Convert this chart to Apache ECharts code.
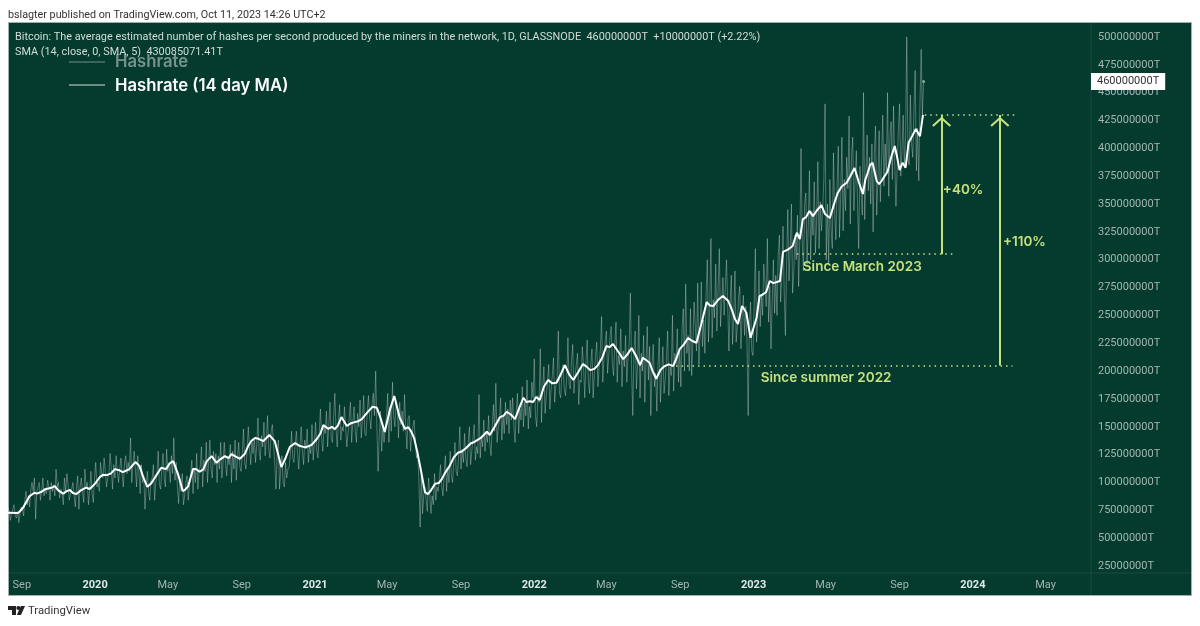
<!DOCTYPE html>
<html>
<head>
<meta charset="utf-8">
<title>Hashrate</title>
<style>
    html, body { margin: 0; padding: 0; background: #fff; }
    #chart { width: 1200px; height: 626px; }
</style>
<script src="https://cdn.jsdelivr.net/npm/echarts@6/dist/echarts.min.js"></script>
</head>
<body>
<div id="chart"></div>
<script>
// all values are in millions of T, the axis formatter adds the zeros back
var startDate = '2019-08-09';
var rawStepDays = 2;

// x axis labels
var tickDates = ['2019-09-01', '2020-01-01', '2020-05-01', '2020-09-01', '2021-01-01', '2021-05-01', '2021-09-01', '2022-01-01', '2022-05-01', '2022-09-01', '2023-01-01', '2023-05-01', '2023-09-01', '2024-01-01', '2024-05-01'];
var tickNames = ['Sep', '2020', 'May', 'Sep', '2021', 'May', 'Sep', '2022', 'May', 'Sep', '2023', 'May', 'Sep', '2024', 'May'];

// hashrate, read every 2 days from the picture (one row = 40 days)
var rawValues = [
    78, 74, 66, 72, 76, 80, 70, 68, 74, 64, 72, 78, 76, 70, 84, 92, 80, 88, 78, 94,
    100, 92, 104, 67, 92, 96, 100, 84, 92, 104, 88, 94, 90, 102, 96, 84, 100, 92, 98, 88,
    112, 96, 100, 86, 94, 90, 80, 104, 92, 108, 98, 84, 90, 94, 100, 88, 78, 96, 106, 76,
    96, 104, 92, 82, 112, 96, 100, 80, 94, 110, 90, 82, 104, 118, 96, 100, 92, 118, 108, 104,
    122, 110, 96, 104, 108, 126, 112, 94, 116, 104, 124, 110, 100, 112, 122, 106, 96, 118, 124, 108,
    118, 110, 140, 100, 116, 128, 112, 96, 124, 108, 90, 116, 100, 106, 76, 96, 110, 92, 84, 102,
    104, 116, 84, 100, 108, 128, 98, 94, 112, 126, 104, 96, 130, 110, 118, 100, 124, 108, 140, 102,
    118, 96, 81, 104, 92, 108, 80, 88, 100, 106, 84, 96, 108, 120, 90, 112, 100, 126, 94, 110,
    114, 132, 96, 120, 110, 136, 100, 118, 138, 112, 104, 128, 116, 126, 100, 124, 112, 136, 104, 118,
    136, 118, 106, 124, 116, 134, 100, 128, 112, 138, 102, 122, 136, 114, 110, 126, 148, 118, 112, 130,
    150, 130, 116, 136, 126, 140, 118, 134, 158, 128, 120, 142, 132, 154, 124, 138, 160, 130, 122, 146,
    152, 134, 118, 94, 126, 138, 94, 112, 124, 100, 96, 118, 104, 112, 114, 126, 146, 122, 118, 134,
    146, 126, 112, 134, 150, 128, 116, 138, 130, 148, 118, 132, 126, 152, 120, 136, 154, 128, 122, 144,
    166, 140, 128, 150, 144, 164, 132, 152, 172, 140, 136, 158, 180, 148, 132, 156, 170, 138, 150, 146,
    168, 150, 132, 144, 158, 172, 136, 154, 168, 146, 136, 162, 150, 174, 140, 156, 178, 144, 142, 164,
    178, 158, 148, 170, 180, 160, 200, 150, 110, 142, 164, 128, 150, 136, 150, 160, 180, 136, 168, 146,
    190, 160, 150, 172, 166, 140, 172, 152, 164, 146, 179, 150, 130, 158, 160, 128, 142, 150, 156, 136,
    122, 128, 100, 60, 108, 72, 88, 96, 84, 74, 104, 90, 72, 88, 80, 108, 84, 96, 92, 104,
    116, 96, 88, 108, 124, 92, 112, 100, 128, 106, 100, 118, 136, 110, 106, 122, 150, 112, 130, 118,
    144, 122, 114, 136, 150, 116, 128, 140, 152, 120, 132, 126, 179, 122, 140, 132, 156, 128, 144, 136,
    160, 134, 124, 150, 170, 146, 189, 136, 148, 156, 176, 138, 160, 144, 172, 152, 166, 144, 174, 156,
    176, 150, 136, 164, 180, 144, 166, 156, 186, 150, 172, 160, 192, 148, 168, 158, 190, 176, 211, 160,
    150, 178, 172, 220, 154, 186, 204, 162, 178, 190, 206, 166, 184, 196, 212, 172, 188, 194, 236, 180,
    176, 200, 206, 184, 178, 194, 230, 188, 184, 210, 224, 180, 196, 206, 216, 170, 192, 190, 222, 204,
    176, 208, 228, 190, 180, 206, 220, 176, 198, 214, 226, 186, 204, 220, 249, 190, 212, 226, 236, 198,
    198, 230, 240, 206, 196, 224, 244, 190, 214, 206, 238, 186, 218, 204, 232, 190, 212, 226, 270, 200,
    160, 220, 236, 184, 206, 250, 176, 216, 200, 232, 172, 208, 240, 192, 222, 160, 204, 224, 186, 198,
    164, 206, 230, 172, 198, 222, 180, 192, 212, 236, 178, 204, 196, 250, 182, 216, 206, 238, 190, 220,
    186, 238, 256, 200, 278, 216, 232, 200, 256, 196, 226, 262, 240, 218, 279, 206, 234, 280, 222, 246,
    216, 270, 300, 226, 256, 319, 230, 264, 248, 296, 236, 274, 310, 240, 262, 284, 250, 276, 300, 258,
    218, 262, 286, 224, 248, 290, 226, 240, 266, 276, 220, 250, 268, 232, 258, 226, 160, 240, 262, 218,
    214, 260, 310, 226, 244, 290, 240, 268, 250, 296, 280, 258, 319, 244, 276, 220, 262, 300, 252, 286,
    250, 304, 322, 262, 284, 330, 270, 232, 296, 345, 281, 310, 350, 270, 290, 322, 300, 340, 276, 318,
    400, 318, 290, 350, 360, 296, 330, 380, 300, 344, 322, 370, 306, 336, 388, 310, 352, 326, 346, 372,
    440, 300, 350, 296, 372, 328, 310, 396, 342, 318, 366, 402, 320, 356, 410, 326, 372, 344, 392, 364,
    429, 332, 392, 410, 344, 370, 398, 352, 310, 384, 360, 340, 450, 336, 378, 412, 362, 392, 350, 404,
    325, 396, 420, 340, 372, 416, 352, 388, 430, 366, 404, 376, 450, 357, 410, 424, 372, 438, 386, 348,
    348, 416, 440, 375, 398, 430, 384, 410, 500, 392, 385, 448, 404, 392, 436, 470, 380, 418, 371, 440,
    489, 430, 460
];

// 14 day MA, days counted from startDate
var maDays = [0, 17, 25, 36, 44, 55, 72, 78, 92, 103, 114, 125, 136, 153, 164, 178, 191, 202, 212, 219, 232, 244, 255, 263, 275, 283, 291, 300, 308, 319,
    325, 331, 339, 347, 361, 367, 372, 386, 394, 405, 417, 425, 435, 444, 455, 469, 478, 486, 505, 514, 525, 533, 544, 555, 564, 577, 589, 600, 614, 627, 636, 643, 652,
    661, 666, 676, 686, 694, 699, 711, 722, 735, 749, 763, 777, 797, 802, 819, 830, 844, 858, 863, 874, 879, 885, 899, 913, 927, 941, 957, 969, 982,
    996, 1007, 1024, 1038, 1052, 1057, 1068, 1079, 1093, 1107, 1118, 1132, 1146, 1154, 1163, 1174, 1190, 1199, 1210, 1215, 1222, 1229, 1236, 1246, 1251, 1262, 1268, 1285,
    1290, 1306, 1313, 1318, 1323, 1334, 1340, 1354, 1360, 1368, 1381, 1396, 1409, 1423, 1431, 1439, 1446, 1454, 1464, 1476, 1484, 1489, 1494, 1499, 1511, 1518, 1523];
var maValues = [72.8, 72.5, 77.3, 87.8, 90.8, 91.4, 95.2, 96.8, 89.9, 93.2, 89.6, 94.1, 94.1, 104.9, 106.6, 112, 109.3, 112, 118.3, 114.7, 96.1, 104, 113.2, 112, 119.2, 107.5, 92.3, 96.8, 112, 109.6,
    111.8, 119.2, 123.7, 117.7, 123.7, 121.9, 125.5, 121.3, 125.5, 137.2, 139.2, 137.2, 142.6, 137.2, 113.8, 131.8, 135.4, 132.7, 133.6, 139, 151.5, 148.2, 147.9, 158.7, 150.7, 154.2, 156.9, 164.1, 167.1, 145.3, 165.9, 177.6, 158.1,
    148, 149.7, 139.9, 114.7, 91.4, 89.6, 98.8, 103, 114.7, 126.7, 131.2, 136.6, 145.5, 142.6, 158.7, 163.5, 156.9, 176.1, 172.2, 172.2, 176.7, 174, 192, 189.5, 205.4, 192, 206.3, 200.9, 205.4,
    222.5, 224.3, 210.8, 220.7, 205.4, 212, 207.5, 193.1, 204.5, 204.5, 219.8, 229.7, 225.5, 242.2, 262, 258.4, 267.4, 262.9, 246.7, 242.2, 258.4, 252.4, 229.9, 247.9, 267.4, 271, 280.9, 280.9,
    307, 312.3, 324.2, 318.6, 336.5, 343.7, 339.2, 349.1, 341, 337.4, 359.9, 369.1, 382.3, 359, 378.1, 387.1, 370.7, 370.7, 379, 402.1, 380.5, 387.1, 382.6, 405, 417.4, 411, 430.085];

// small wiggles of the MA between the points above
var maDetailDays = [48, 62, 84, 97, 108, 120, 130, 145, 158, 171, 185, 196, 225, 238, 269, 295, 313, 354, 380, 400, 411, 462, 495, 520, 539, 549, 570, 583, 595, 607, 620,
    671, 681, 704, 717, 729, 742, 756, 770, 787, 810, 825, 837, 851, 869, 892, 906, 920, 934, 949, 963, 976,
    989, 1001, 1015, 1031, 1045, 1073, 1086, 1100, 1113, 1125, 1139, 1168, 1182, 1205, 1257, 1274, 1298, 1328, 1346, 1375, 1388, 1402, 1416, 1427, 1435, 1450, 1459, 1470, 1480, 1505];
var maDetailValues = [90, 94, 92.6, 92, 90.5, 92.4, 95.4, 99, 107, 108, 111, 110.5, 105, 99, 117, 93.5, 112, 121, 123, 133, 140, 122, 131.5, 144, 150, 151, 153, 155, 161, 168, 158,
    146, 128, 93, 99.5, 110, 122.5, 128, 135, 140, 150, 160, 161, 167, 173, 186, 189, 197, 197, 199, 204, 202,
    212, 221.5, 218, 215, 214, 200, 201, 206, 212, 224, 227, 259, 264, 255, 269, 279, 309, 338, 344, 350, 366, 375, 370, 372, 385, 368, 375, 392, 392, 411];

// y axis
var yMin = 25;
var yMax = 500;
var yStep = 25;
var lastClose = 460;

// annotation levels and arrows
var levelNow = 430;
var levelMarch = 305;
var levelSummer = 205;
var arrowHeadValue = 424;
var dotNowFrom = '2023-10-13';
var dotNowTo = '2024-03-12';
var dotMarchFrom = '2023-03-14';
var dotMarchTo = '2023-12-03';
var dotSummerFrom = '2022-08-25';
var dotSummerTo = '2024-03-07';
var arrowShort = '2023-11-10';
var arrowLong = '2024-02-15';
var noteTexts = ['+40%', '+110%', 'Since March 2023', 'Since summer 2022'];
var noteDates = ['2023-11-12', '2024-02-20', '2023-03-24', '2023-01-13'];
var noteValues = [362.6, 316, 293.4, 193.8];

var LIME = '#c6e27f';
var AXIS_TEXT = '#a3b6b0';
var BG = '#053a2f';
var CHEVRON = 'path://M9,0 L18,9 L16.6,10.4 L9,3 L1.4,10.4 L0,9 Z';

drawChart();

function dayToTime(day) {
    return Date.parse(startDate) + day * 86400000;
}

function buildRaw() {
    var list = [];
    for (var i = 0; i < rawValues.length; i++) {
        list.push([dayToTime(i * rawStepDays), rawValues[i]]);
    }
    return list;
}

function buildMa() {
    var list = [];
    var i;
    for (i = 0; i < maValues.length; i++) {
        list.push([maDays[i], maValues[i]]);
    }
    for (i = 0; i < maDetailValues.length; i++) {
        list.push([maDetailDays[i], maDetailValues[i]]);
    }
    list.sort(function (a, b) { return a[0] - b[0]; });
    return list.map(function (p) { return [dayToTime(p[0]), p[1]]; });
}

function buildNotes() {
    var list = [];
    for (var i = 0; i < noteTexts.length; i++) {
        list.push({ value: [Date.parse(noteDates[i]), noteValues[i]], name: noteTexts[i] });
    }
    return list;
}

/** dotted level between two dates */
function dotted(from, to, level) {
    return [
        { coord: [Date.parse(from), level], symbol: 'none', lineStyle: { color: LIME, width: 1.5, type: [1.5, 4] } },
        { coord: [Date.parse(to), level], symbol: 'none' }
    ];
}

function shaft(date, from, to) {
    return [
        { coord: [Date.parse(date), from], symbol: 'none', lineStyle: { color: LIME, width: 2, type: 'solid' } },
        { coord: [Date.parse(date), to], symbol: 'none' }
    ];
}

function head(date) {
    return [
        { coord: [Date.parse(date), arrowHeadValue - 1], symbol: 'none', lineStyle: { color: LIME, width: 2, type: 'solid' } },
        { coord: [Date.parse(date), arrowHeadValue], symbol: CHEVRON, symbolSize: [19, 10] }
    ];
}

function pageText(x, y, text, font, color) {
    return { type: 'text', x: x, y: y, z: 5, style: { text: text, font: font, fill: color, verticalAlign: 'middle' } };
}

function drawChart() {
    var myChart = echarts.init(document.getElementById('chart'), null, { renderer: 'canvas' });
    var tickTimes = tickDates.map(function (d) { return Date.parse(d); });

    var option = {
        animation: false,
        backgroundColor: '#ffffff',
        textStyle: { fontFamily: 'Roboto' },
        grid: { left: 8, top: 37, width: 1082, height: 529 },
        xAxis: {
            type: 'value',
            min: dayToTime(0),
            max: Date.parse('2024-07-14'),
            axisLine: { show: false },
            axisTick: { show: false },
            splitLine: { show: false },
            axisLabel: {
                customValues: tickTimes,
                margin: 14,
                color: AXIS_TEXT,
                fontSize: 11,
                formatter: function (value) {
                    var name = tickNames[tickTimes.indexOf(value)];
                    return /^\d/.test(name) ? '{year|' + name + '}' : name;
                },
                rich: { year: { color: '#dfe8e5', fontWeight: 'bold', fontSize: 11 } }
            }
        },
        yAxis: {
            type: 'value',
            position: 'right',
            min: yMin,
            max: yMax,
            interval: yStep,
            axisLine: { show: false },
            axisTick: { show: false },
            splitLine: { show: false },
            axisLabel: {
                margin: 8,
                color: AXIS_TEXT,
                fontSize: 11,
                formatter: function (value) { return value + '000000T'; }
            },
            axisPointer: {
                show: true,
                status: 'show',
                value: lastClose,
                triggerTooltip: false,
                lineStyle: { opacity: 0 },
                label: {
                    show: true,
                    margin: 1,
                    backgroundColor: '#ffffff',
                    borderRadius: 0,
                    color: '#333',
                    fontSize: 11,
                    padding: [3, 6],
                    formatter: function (p) { return Math.round(p.value) + '000000T'; }
                }
            }
        },
        series: [{
            name: 'Hashrate',
            type: 'line',
            data: buildRaw(),
            symbol: 'none',
            z: 2,
            lineStyle: { color: 'rgba(255,255,255,0.3)', width: 1 }
        }, {
            name: 'Hashrate (14 day MA)',
            type: 'line',
            data: buildMa(),
            symbol: 'none',
            z: 3,
            lineStyle: { color: '#ffffff', width: 2 },
            markLine: {
                silent: true,
                animation: false,
                label: { show: false },
                data: [
                    dotted(dotNowFrom, dotNowTo, levelNow),
                    dotted(dotMarchFrom, dotMarchTo, levelMarch),
                    dotted(dotSummerFrom, dotSummerTo, levelSummer),
                    shaft(arrowShort, levelMarch, levelNow),
                    shaft(arrowLong, levelSummer, levelNow),
                    head(arrowShort),
                    head(arrowLong)
                ],
                itemStyle: { color: LIME }
            }
        }, {
            name: 'last',
            type: 'scatter',
            data: [[dayToTime((rawValues.length - 1) * rawStepDays), lastClose]],
            symbolSize: 3,
            z: 4,
            itemStyle: { color: '#8aa69d', opacity: 1 }
        }, {
            name: 'notes',
            type: 'scatter',
            data: buildNotes(),
            symbolSize: 0,
            z: 5,
            itemStyle: { opacity: 1 },
            label: {
                show: true,
                position: 'right',
                distance: 0,
                color: LIME,
                fontFamily: 'Inter',
                fontWeight: 600,
                fontSize: 13.5,
                formatter: function (p) { return p.name; }
            }
        }],
        graphic: [
            { type: 'rect', z: -10, shape: { x: 8.5, y: 22.5, width: 1183, height: 573 }, style: { fill: BG, stroke: '#9fb0ab', lineWidth: 1 } },
            { type: 'line', z: -9, shape: { x1: 1091, y1: 23, x2: 1091, y2: 595 }, style: { stroke: '#1b4c42', lineWidth: 1 } },
            { type: 'line', z: -9, shape: { x1: 9, y1: 573, x2: 1191, y2: 573 }, style: { stroke: '#1b4c42', lineWidth: 1 } },
            pageText(8, 15, 'bslagter published on TradingView.com, Oct 11, 2023 14:26 UTC+2', '10.76px Roboto', '#333333'),
            pageText(15, 37, 'Bitcoin: The average estimated number of hashes per second produced by the miners in the network, 1D, GLASSNODE  460000000T  +10000000T (+2.22%)', '10.87px Roboto', '#d3dcd9'),
            pageText(15, 52, 'SMA (14, close, 0, SMA, 5)  430085071.41T', '10.87px Roboto', '#d3dcd9'),
            { type: 'line', z: 5, shape: { x1: 69, y1: 62, x2: 105, y2: 62 }, style: { stroke: 'rgba(255,255,255,0.3)', lineWidth: 1.5 } },
            { type: 'line', z: 5, shape: { x1: 69, y1: 85, x2: 105, y2: 85 }, style: { stroke: 'rgba(255,255,255,0.55)', lineWidth: 1.5 } },
            pageText(115, 62, 'Hashrate', '600 16.7px Inter', 'rgba(255,255,255,0.45)'),
            pageText(115, 86, 'Hashrate (14 day MA)', '600 16.7px Inter', '#ffffff'),
            { type: 'polygon', z: 5, shape: { points: [[8, 606], [16, 606], [16, 615], [12, 615], [12, 610], [8, 610]] }, style: { fill: '#222' } },
            { type: 'circle', z: 5, shape: { cx: 18.3, cy: 608, r: 2 }, style: { fill: '#222' } },
            { type: 'polygon', z: 5, shape: { points: [[20.8, 606], [25, 606], [21, 615], [16.8, 615]] }, style: { fill: '#222' } },
            pageText(28, 611, 'TradingView', '11.3px Roboto', '#333333')
        ]
    };

    // 使用刚指定的配置项和数据显示图表。
    myChart.setOption(option);
}
</script>
</body>
</html>
